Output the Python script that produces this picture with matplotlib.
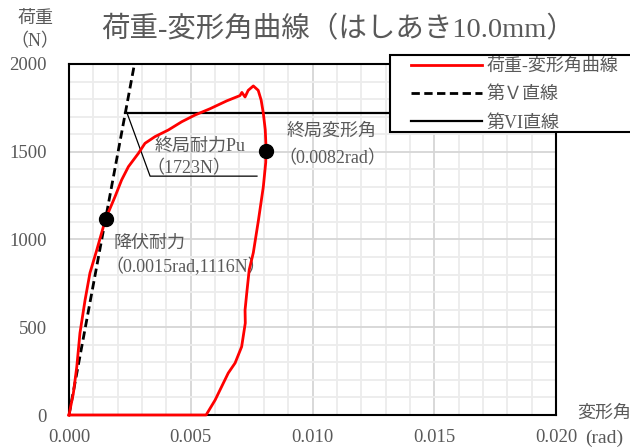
import matplotlib
matplotlib.use("Agg")
import matplotlib.pyplot as plt
from matplotlib.patches import Rectangle
from matplotlib.ticker import MultipleLocator

plt.rcParams["font.family"] = ["Liberation Serif", "Noto Sans CJK JP", "DejaVu Sans"]

# load-deformation curve (rad, N)
curve_x = [0, 0.00018, 0.00032, 0.00045, 0.00066, 0.00086, 0.00114, 0.0015,
           0.00189, 0.00216, 0.00244, 0.00285, 0.00312, 0.00353, 0.00408,
           0.00463, 0.00517, 0.00579, 0.00648, 0.00702, 0.0071, 0.00723,
           0.00736, 0.00757, 0.00777, 0.00789, 0.00798, 0.00806, 0.00809,
           0.00808, 0.00798, 0.00778, 0.00757, 0.0074, 0.0073, 0.00723,
           0.00724, 0.00709, 0.00682, 0.00654, 0.00634, 0.006, 0.00563, 0]
curve_y = [0, 125, 275, 467, 655, 809, 940, 1116,
           1244, 1339, 1415, 1491, 1548, 1586, 1624,
           1671, 1709, 1745, 1790, 1820, 1838, 1812,
           1850, 1875, 1850, 1795, 1720, 1625, 1530,
           1440, 1300, 1110, 925, 826, 695, 598,
           524, 389, 296, 239, 182, 85, 0, 0]

yield_pt = (0.0015, 1116)      # 降伏耐力
ultimate_pt = (0.0081, 1505)   # 終局変形角 marker
pu = 1723                      # 終局耐力Pu
x_max, y_max = 0.020, 2000

x_ticks = [0.000, 0.005, 0.010, 0.015, 0.020]
y_ticks = [0, 500, 1000, 1500, 2000]

TXT = "#595959"

fig = plt.figure(figsize=(6.3, 4.48), dpi=100)
ax = fig.add_axes([69 / 630, 1 - 415 / 448, 487 / 630, 351 / 448])

# grid
ax.xaxis.set_major_locator(MultipleLocator(0.005))
ax.xaxis.set_minor_locator(MultipleLocator(0.001))
ax.yaxis.set_major_locator(MultipleLocator(500))
ax.yaxis.set_minor_locator(MultipleLocator(100))
ax.grid(which="minor", color="#ececec", lw=1.3)
ax.grid(which="major", color="#d6d6d6", lw=1.3)
ax.set_axisbelow(True)

# 第V直線: through origin and yield point
slope = yield_pt[1] / yield_pt[0]
ax.plot([0, y_max / slope], [0, y_max], color="black", lw=2.0,
        dashes=(3, 1.6), label="第Ｖ直線", zorder=3)
# 第VI直線: horizontal at Pu from intersection with V line
ax.plot([pu / slope, x_max], [pu, pu], color="black", lw=1.6,
        label="第VI直線", zorder=3)
ax.plot(curve_x, curve_y, color="red", lw=2.0, label="荷重-変形角曲線",
        zorder=4, clip_on=False)

ax.plot(*yield_pt, "o", color="black", ms=10, zorder=5)
ax.plot(*ultimate_pt, "o", color="black", ms=10, zorder=5)

# leader for Pu
ax.plot([0.00237, 0.00333, 0.00772], [1726, 1361, 1361], color="black",
        lw=0.9, zorder=3)

fs = 13
ax.text(0.00353, 1529, "終局耐力Pu", color=TXT, fontsize=fs, va="center")
ax.text(0.0032, 1402, "（1723N）", color=TXT, fontsize=fs, va="center")
ax.text(0.00895, 1614, "終局変形角", color=TXT, fontsize=fs, va="center")
ax.text(0.00862, 1459, "（0.0082rad）", color=TXT, fontsize=fs, va="center")
ax.text(0.00181, 980, "降伏耐力", color=TXT, fontsize=fs, va="center")
ax.text(0.00148, 845, "（0.0015rad,1116N）", color=TXT, fontsize=fs, va="center")

ax.set_xlim(0, x_max)
ax.set_ylim(0, y_max)
ax.set_xticks(x_ticks)
ax.set_yticks(y_ticks)
ax.set_xticklabels([f"{v:.3f}" for v in x_ticks])
ax.set_yticklabels([str(v) for v in y_ticks])
ax.tick_params(which="both", length=0, labelsize=13.5, colors=TXT)
ax.tick_params(axis="x", pad=10)
ax.tick_params(axis="y", pad=16)
for sp in ax.spines.values():
    sp.set_color("black")
    sp.set_linewidth(1.5)

# titles / axis labels
fig.text(338 / 630, 1 - 30 / 448, "荷重-変形角曲線（はしあき10.0mm）",
         fontsize=20.5, color=TXT, ha="center", va="center")
fig.text(35 / 630, 1 - 18 / 448, "荷重", fontsize=13, color=TXT,
         ha="center", va="center")
fig.text(35 / 630, 1 - 42 / 448, "（N）", fontsize=13, color=TXT,
         ha="center", va="center")
fig.text(577 / 630, 1 - 413 / 448, "変形角", fontsize=13, color=TXT,
         ha="left", va="center")
fig.text(585 / 630, 1 - 438 / 448, "(rad)", fontsize=14, color=TXT,
         ha="left", va="center")

# legend box, running past the right edge
box = Rectangle((390 / 630, 1 - 132 / 448), 0.5, 77 / 448,
                transform=fig.transFigure, facecolor="white",
                edgecolor="black", lw=1.5, zorder=10)
fig.patches.append(box)
h, l = ax.get_legend_handles_labels()
order = [2, 0, 1]
leg = fig.legend([h[i] for i in order], [l[i] for i in order],
                 loc="upper left", bbox_to_anchor=(404 / 630, 1 - 51 / 448),
                 frameon=False, fontsize=13, handlelength=3.9,
                 handletextpad=0.25, labelspacing=0.62, borderaxespad=0)
leg.set_zorder(11)
for t in leg.get_texts():
    t.set_color(TXT)

fig.savefig("out.png", dpi=100)
